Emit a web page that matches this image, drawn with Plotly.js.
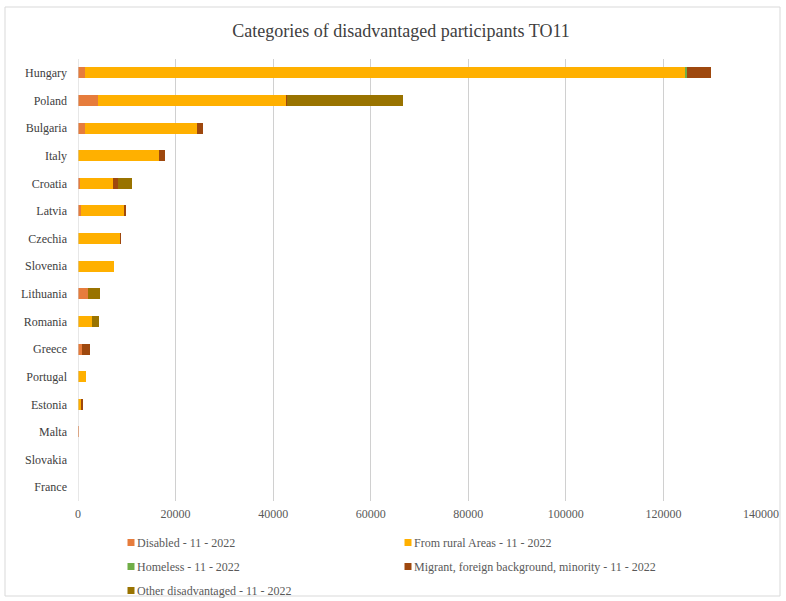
<!DOCTYPE html>
<html>
<head>
<meta charset="utf-8">
<script src="https://cdn.plot.ly/plotly-3.0.1.min.js"></script>
<style>html,body{margin:0;padding:0;background:#fff;}#chart{width:786px;height:601px;}</style>
</head>
<body>
<div id="chart"></div>
<script>
const countries = ["Hungary","Poland","Bulgaria","Italy","Croatia","Latvia","Czechia","Slovenia","Lithuania","Romania","Greece","Portugal","Estonia","Malta","Slovakia","France"];
const disabled  = [1500, 4100, 1500,     0,  500,  700,    0,    0, 2150,    0,  900,    0,   0, 150, 0, 0];
const rural     = [123000, 38600, 22900, 16700, 6700, 8800, 8600, 7400, 0, 2800, 0, 1600, 700, 0, 0, 0];
const homeless  = [300, 0, 0, 0, 0, 0, 0, 0, 0, 0, 0, 0, 0, 0, 0, 0];
const migrant   = [4900, 200, 1200, 1100, 900, 400, 200, 0, 0, 0, 1500, 0, 300, 0, 0, 0];
const other     = [0, 23800, 0, 0, 2900, 0, 0, 0, 2450, 1500, 0, 0, 0, 0, 0, 0];

const seriesNames = ["Disabled - 11 - 2022","From rural Areas - 11 - 2022","Homeless - 11 - 2022","Migrant, foreign background, minority - 11 - 2022","Other disadvantaged - 11 - 2022"];
const seriesValues = [disabled, rural, homeless, migrant, other];
const colors = ["#E67C3C","#FFB000","#70AD47","#9E480E","#997300"];
const legendIds = ["legend","legend2","legend3","legend4","legend5"];

const traces = seriesValues.map((vals, i) => ({
  type: "bar",
  orientation: "h",
  name: seriesNames[i],
  legend: legendIds[i],
  y: countries,
  x: vals,
  marker: {color: colors[i], line: {width: 0}},
  hoverinfo: "x+y+name"
}));

const W = 786, H = 601;
const ml = 78, mr = 25, mt = 59, mb = 100;
const pw = W - ml - mr, ph = H - mt - mb;
const px = v => (v - ml) / pw;
const py = v => (H - mb - v) / ph;

const legendAt = (left, top) => ({
  orientation: "h",
  xref: "container", yref: "container",
  x: left / W, xanchor: "left",
  y: 1 - top / H, yanchor: "top",
  font: {family: "Liberation Serif, serif", size: 12, color: "#595959"},
  bgcolor: "rgba(0,0,0,0)"
});

const layout = {
  width: W, height: H,
  margin: {l: ml, r: mr, t: mt, b: mb, pad: 0},
  paper_bgcolor: "#ffffff",
  plot_bgcolor: "#ffffff",
  barmode: "stack",
  bargap: 0.6,
  font: {family: "Liberation Serif, serif", size: 12, color: "#595959"},
  title: {
    text: "Categories of disadvantaged participants TO11",
    font: {family: "Liberation Serif, serif", size: 18, color: "#404040"},
    x: 401 / W, xanchor: "center", y: 1 - 31 / H, yanchor: "middle"
  },
  xaxis: {
    range: [0, 140000],
    dtick: 20000,
    tickformat: "d",
    showgrid: true,
    gridcolor: "#d0d0d0",
    gridwidth: 1,
    zeroline: false,
    showline: false,
    ticks: "",
    ticklabelstandoff: 4,
    tickfont: {size: 12, color: "#595959"},
    fixedrange: true,
    automargin: false
  },
  yaxis: {
    type: "category",
    autorange: "reversed",
    showgrid: false,
    zeroline: false,
    showline: false,
    ticks: "",
    ticklabelstandoff: 10,
    tickfont: {size: 12, color: "#404040"},
    fixedrange: true,
    automargin: false
  },
  legend:  legendAt(97, 528),
  legend2: legendAt(374, 528),
  legend3: legendAt(97, 552),
  legend4: legendAt(374, 552),
  legend5: legendAt(97, 576),
  shapes: [
    {type: "line", xref: "x", yref: "paper", x0: 0, x1: 0, y0: 0, y1: 1, line: {color: "#d0d0d0", width: 1}},
    {type: "rect", xref: "paper", yref: "paper", x0: px(5), x1: px(780), y0: py(596), y1: py(7), line: {color: "#d9d9d9", width: 1}, layer: "below"}
  ],
  showlegend: true
};

Plotly.newPlot("chart", traces, layout, {displayModeBar: false, staticPlot: true}).then(gd => {
  gd.querySelectorAll(".legendpoints path").forEach(p => {
    p.setAttribute("d", "M3.5,3.5H-3.5V-3.5H3.5Z");
    p.setAttribute("transform", "translate(34,0)");
  });
});
</script>
</body>
</html>
